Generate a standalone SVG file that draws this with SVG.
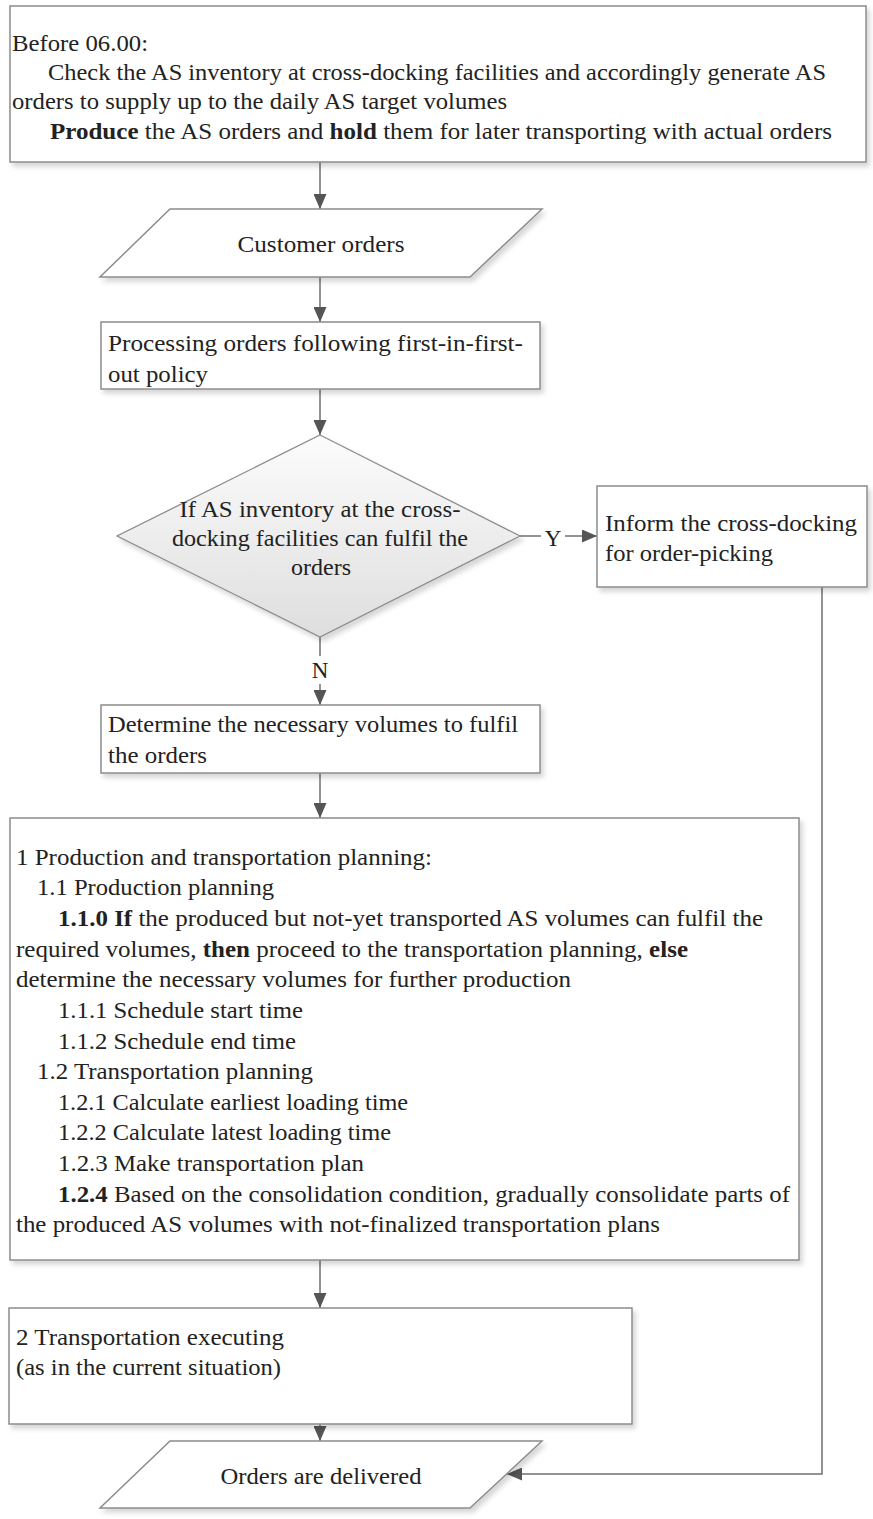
<svg xmlns="http://www.w3.org/2000/svg" width="873" height="1519" viewBox="0 0 873 1519">
  <style>
    .box { fill: #ffffff; stroke: #8c8c8c; stroke-width: 1.5; filter: url(#sh); }
    .dia { fill: url(#dg); stroke: #8c8c8c; stroke-width: 1.3; filter: url(#sh); }
    .t { font-family: "Liberation Serif", "DejaVu Serif", serif; font-size: 23px; fill: #222222; }
    .c { text-anchor: middle; }
    .b { font-weight: bold; }
    .ln { fill: none; stroke: #707070; stroke-width: 1.5; }
    .lbl { font-family: "Liberation Serif", "DejaVu Serif", serif; font-size: 23px; fill: #222222; text-anchor: middle; }
  </style>
  <defs>
    <filter id="sh" x="-5%" y="-5%" width="115%" height="125%">
      <feDropShadow dx="3" dy="4" stdDeviation="2.5" flood-color="#000000" flood-opacity="0.16"/>
    </filter>
    <linearGradient id="dg" x1="0" y1="0" x2="0" y2="1">
      <stop offset="0" stop-color="#fcfcfc"/>
      <stop offset="1" stop-color="#dedede"/>
    </linearGradient>
    <marker id="arr" markerWidth="15" markerHeight="13" refX="15" refY="6.5" orient="auto" markerUnits="userSpaceOnUse">
      <path d="M0,0 L15,6.5 L0,13 Z" fill="#555555"/>
    </marker>
  </defs>

  <rect width="873" height="1519" fill="#ffffff"/>

  <!-- connectors -->
  <g id="connectors">
    <line class="ln" x1="320" y1="162" x2="320" y2="209" marker-end="url(#arr)"/>
    <line class="ln" x1="320" y1="277" x2="320" y2="322" marker-end="url(#arr)"/>
    <line class="ln" x1="320" y1="389" x2="320" y2="435" marker-end="url(#arr)"/>
    <line class="ln" x1="520" y1="536" x2="541" y2="536"/>
    <text class="lbl" x="553" y="546">Y</text>
    <line class="ln" x1="565" y1="536" x2="597" y2="536" marker-end="url(#arr)"/>
    <line class="ln" x1="320" y1="637" x2="320" y2="656"/>
    <text class="lbl" x="320" y="678">N</text>
    <line class="ln" x1="320" y1="684" x2="320" y2="705" marker-end="url(#arr)"/>
    <line class="ln" x1="320" y1="773" x2="320" y2="818" marker-end="url(#arr)"/>
    <line class="ln" x1="320" y1="1260" x2="320" y2="1308" marker-end="url(#arr)"/>
    <line class="ln" x1="320" y1="1424" x2="320" y2="1441" marker-end="url(#arr)"/>
    <polyline class="ln" points="822,587 822,1474 507,1474" marker-end="url(#arr)"/>
  </g>

  <!-- nightly AS order preparation -->
  <g id="n-before">
    <rect class="box" x="10" y="6" width="856" height="156"/>
    <text class="t" x="12" y="51" textLength="136" lengthAdjust="spacingAndGlyphs">Before 06.00:</text>
    <text class="t" x="48" y="80" textLength="778" lengthAdjust="spacingAndGlyphs">Check the AS inventory at cross-docking facilities and accordingly generate AS</text>
    <text class="t" x="12" y="109" textLength="495" lengthAdjust="spacingAndGlyphs">orders to supply up to the daily AS target volumes</text>
    <text class="t" x="50" y="139" textLength="782" lengthAdjust="spacingAndGlyphs"><tspan class="b">Produce</tspan> the AS orders and <tspan class="b">hold</tspan> them for later transporting with actual orders</text>
  </g>

  <g id="n-customer-orders">
    <polygon class="box" points="170,209 542,209 470,277 100,277"/>
    <text class="t c" x="321" y="252" textLength="167" lengthAdjust="spacingAndGlyphs">Customer orders</text>
  </g>

  <g id="n-processing">
    <rect class="box" x="101" y="322" width="439" height="67"/>
    <text class="t" x="108" y="351" textLength="415" lengthAdjust="spacingAndGlyphs">Processing orders following first-in-first-</text>
    <text class="t" x="108" y="382" textLength="100" lengthAdjust="spacingAndGlyphs">out policy</text>
  </g>

  <g id="n-decision">
    <polygon class="dia" points="320,435 520,536 320,637 117,536"/>
    <text class="t c" x="320" y="517" textLength="281" lengthAdjust="spacingAndGlyphs">If AS inventory at the cross-</text>
    <text class="t c" x="320" y="546" textLength="296" lengthAdjust="spacingAndGlyphs">docking facilities can fulfil the</text>
    <text class="t c" x="321" y="575" textLength="60" lengthAdjust="spacingAndGlyphs">orders</text>
  </g>

  <g id="n-inform">
    <rect class="box" x="597" y="486" width="270" height="101"/>
    <text class="t" x="605" y="531" textLength="252" lengthAdjust="spacingAndGlyphs">Inform the cross-docking</text>
    <text class="t" x="605" y="561" textLength="168" lengthAdjust="spacingAndGlyphs">for order-picking</text>
  </g>

  <g id="n-determine">
    <rect class="box" x="101" y="705" width="439" height="68"/>
    <text class="t" x="108" y="732" textLength="410" lengthAdjust="spacingAndGlyphs">Determine the necessary volumes to fulfil</text>
    <text class="t" x="108" y="763" textLength="99" lengthAdjust="spacingAndGlyphs">the orders</text>
  </g>

  <g id="n-planning">
    <rect class="box" x="10" y="818" width="789" height="442"/>
    <text class="t" x="16" y="865" textLength="416" lengthAdjust="spacingAndGlyphs">1 Production and transportation planning:</text>
    <text class="t" x="37" y="895" textLength="237" lengthAdjust="spacingAndGlyphs">1.1 Production planning</text>
    <text class="t" x="58" y="926" textLength="705" lengthAdjust="spacingAndGlyphs"><tspan class="b">1.1.0 If</tspan> the produced but not-yet transported AS volumes can fulfil the</text>
    <text class="t" x="16" y="957" textLength="672" lengthAdjust="spacingAndGlyphs">required volumes, <tspan class="b">then</tspan> proceed to the transportation planning, <tspan class="b">else</tspan></text>
    <text class="t" x="16" y="987" textLength="555" lengthAdjust="spacingAndGlyphs">determine the necessary volumes for further production</text>
    <text class="t" x="58" y="1018" textLength="245" lengthAdjust="spacingAndGlyphs">1.1.1 Schedule start time</text>
    <text class="t" x="58" y="1049" textLength="238" lengthAdjust="spacingAndGlyphs">1.1.2 Schedule end time</text>
    <text class="t" x="37" y="1079" textLength="276" lengthAdjust="spacingAndGlyphs">1.2 Transportation planning</text>
    <text class="t" x="58" y="1110" textLength="350" lengthAdjust="spacingAndGlyphs">1.2.1 Calculate earliest loading time</text>
    <text class="t" x="58" y="1140" textLength="333" lengthAdjust="spacingAndGlyphs">1.2.2 Calculate latest loading time</text>
    <text class="t" x="58" y="1171" textLength="306" lengthAdjust="spacingAndGlyphs">1.2.3 Make transportation plan</text>
    <text class="t" x="58" y="1202" textLength="732" lengthAdjust="spacingAndGlyphs"><tspan class="b">1.2.4</tspan> Based on the consolidation condition, gradually consolidate parts of</text>
    <text class="t" x="16" y="1232" textLength="644" lengthAdjust="spacingAndGlyphs">the produced AS volumes with not-finalized transportation plans</text>
  </g>

  <g id="n-executing">
    <rect class="box" x="9" y="1308" width="623" height="116"/>
    <text class="t" x="16" y="1345" textLength="268" lengthAdjust="spacingAndGlyphs">2 Transportation executing</text>
    <text class="t" x="16" y="1375" textLength="265" lengthAdjust="spacingAndGlyphs">(as in the current situation)</text>
  </g>

  <g id="n-delivered">
    <polygon class="box" points="170,1441 542,1441 470,1508 100,1508"/>
    <text class="t c" x="321" y="1484" textLength="201" lengthAdjust="spacingAndGlyphs">Orders are delivered</text>
  </g>
</svg>
